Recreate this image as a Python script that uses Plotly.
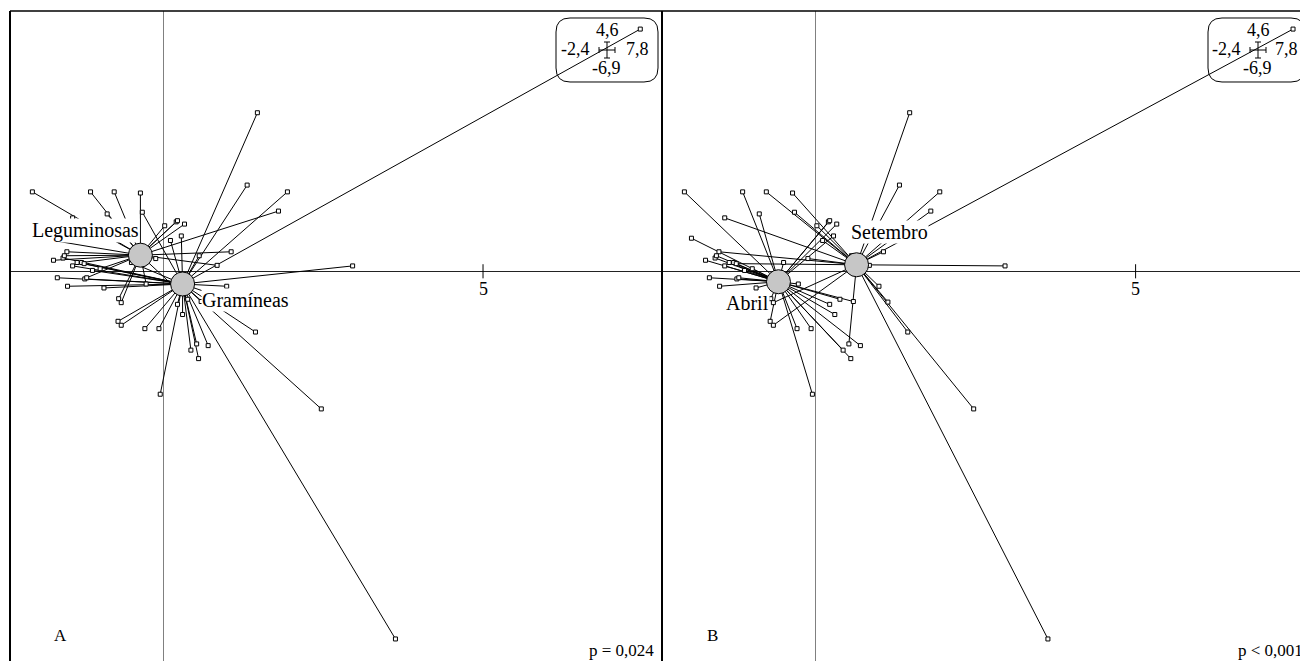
import plotly.graph_objects as go

# page has an 8 px body margin; the figure is laid out in screen pixels minus that offset
OFF = 8
W, H = 1300, 653

# ---- sample scores on the two ordination axes ----
pt_x = [-2.05, -1.42, -1.14, -0.88, -0.77, -0.36, -0.33, 0.02, 0.20, 0.22,
        0.33, 0.11, 0.28, 1.31, 1.94, 1.80, 1.06, 0.84, 0.99, 1.47,
        7.46, 2.96, 1.44, 2.47, 3.63, -0.05, 1.13, -1.94, -1.72, -1.51,
        -1.57, -1.55, -1.42, -1.35, -1.28, -1.24, -1.11, -0.99, -1.66, -1.23,
        -1.20, -1.50, -0.93, -0.70, -0.66, -0.71, -0.66, -0.29, -0.07, -0.50,
        -0.27, 0.22, 0.30, 0.38, 0.59, 0.43, 0.52, 0.55, 0.70, 0.56, -0.12]
pt_y = [1.40, 0.94, 1.40, 1.01, 1.40, 1.38, 1.04, 0.80, 0.87, 0.89,
        0.83, 0.54, 0.62, 1.52, 1.40, 1.06, 0.34, 0.10, -0.27, 2.80,
        4.28, 0.09, -1.08, -2.44, -6.51, -2.18, -0.55, 0.58, 0.19, 0.34,
        0.23, 0.27, 0.09, 0.15, 0.15, 0.13, 0.01, 0.04, -0.12, -0.14,
        -0.12, -0.27, -0.30, -0.49, -0.56, -0.89, -0.96, -1.02, -1.02, 0.15,
        -0.23, -0.59, -0.77, -0.50, -0.54, -1.40, -1.29, -1.55, -1.32, 0.27, 0.22]
# group membership: 0 = Leguminosas, 1 = Gramíneas
pt_treat = [0, 0, 0, 0, 0, 0, 1, 0, 0, 0,
            0, 1, 1, 1, 1, 0, 0, 0, 1, 1,
            1, 1, 1, 1, 1, 1, 1, 0, 0, 0,
            1, 0, 1, 1, 0, 1, 1, 0, 1, 1,
            0, 1, 1, 0, 0, 1, 1, 1, 1, 1,
            0, 1, 1, 0, 1, 1, 1, 1, 1, 1, 0]
# 0 = Abril, 1 = Setembro
pt_month = [0, 1, 0, 0, 1, 1, 1, 1, 0, 0,
            0, 1, 0, 1, 1, 1, 1, 1, 1, 1,
            1, 1, 1, 1, 1, 0, 1, 0, 0, 1,
            0, 0, 0, 0, 0, 1, 0, 0, 0, 0,
            0, 0, 0, 0, 1, 0, 1, 0, 0, 0,
            0, 0, 0, 0, 0, 0, 1, 0, 0, 1, 1]

treat_names = ["Leguminosas", "Gramíneas"]
treat_cx = [-0.36, 0.30]
treat_cy = [0.28, -0.23]
treat_lab_x = [-1.22, 1.28]
treat_lab_y = [0.71, -0.51]

month_names = ["Abril", "Setembro"]
month_cx = [-0.58, 0.64]
month_cy = [-0.19, 0.11]
month_lab_x = [-1.06, 1.16]
month_lab_y = [-0.57, 0.69]

x_lim = [-2.4, 7.8]
y_lim = [-6.9, 4.6]
tick_val = 5
panel_tags = ["A", "B"]
p_texts = ["p = 0,024", "p < 0,001"]

FONT = "Liberation Serif"

fig = go.Figure()


def add_panel(xa, ya, groups, cx, cy, names, lx, ly):
    sx, sy = [], []
    for x, y, g in zip(pt_x, pt_y, groups):
        sx += [x, cx[g], None]
        sy += [y, cy[g], None]
    fig.add_trace(go.Scatter(x=sx, y=sy, mode="lines", xaxis=xa, yaxis=ya,
                             line=dict(color="black", width=1), hoverinfo="skip",
                             showlegend=False))
    fig.add_trace(go.Scatter(x=pt_x, y=pt_y, mode="markers", xaxis=xa, yaxis=ya,
                             marker=dict(symbol="square", size=4, color="white",
                                         line=dict(color="black", width=1)),
                             showlegend=False))
    fig.add_trace(go.Scatter(x=cx, y=cy, mode="markers", xaxis=xa, yaxis=ya,
                             marker=dict(symbol="circle", size=24, color="#c6c6c6",
                                         line=dict(color="black", width=1)),
                             showlegend=False))
    for n, x, y in zip(names, lx, ly):
        fig.add_annotation(x=x, y=y, xref=xa, yref=ya, text=n, showarrow=False,
                           xanchor="center", yanchor="middle",
                           bgcolor="white", borderpad=0,
                           font=dict(family=FONT, size=20, color="black"))


add_panel("x", "y", pt_treat, treat_cx, treat_cy, treat_names, treat_lab_x, treat_lab_y)
add_panel("x2", "y2", pt_month, month_cx, month_cy, month_names, month_lab_x, month_lab_y)


def P(px, py):
    """screen pixel -> paper coordinates"""
    return (px - OFF) / W, 1 - (py - OFF) / H


ytop = P(0, 11)[1]
ybot = max(0.0, P(0, 661)[1])
ax_common = dict(showgrid=False, showticklabels=False, ticks="", showline=False,
                 zeroline=True, zerolinewidth=1, fixedrange=True)
fig.update_layout(
    width=W, height=H, margin=dict(l=0, r=0, t=0, b=0),
    paper_bgcolor="white", plot_bgcolor="white",
    xaxis=dict(domain=[P(10, 0)[0], P(662, 0)[0]], range=x_lim,
               zerolinecolor="#808080", anchor="y", **ax_common),
    yaxis=dict(domain=[ybot, ytop], range=y_lim, anchor="x",
               zerolinecolor="#222222", **ax_common),
    xaxis2=dict(domain=[P(662, 0)[0], 1.0], range=[x_lim[0], x_lim[0] + (OFF + W - 662) / 64.0],
                zerolinecolor="#808080", anchor="y2", **ax_common),
    yaxis2=dict(domain=[ybot, ytop], range=y_lim, anchor="x2",
                zerolinecolor="#222222", **ax_common),
)

# frame lines (left, top, right) per panel
for x0, x1 in [(10, 662), (662, 1310)]:
    for (a, b, c, d, w) in [(x0, 11, x0, 670, 2), (x0, 11, x1, 11, 1.5), (x1, 11, x1, 670, 2)]:
        u0, v0 = P(a, b)
        u1, v1 = P(c, d)
        fig.add_shape(type="line", xref="paper", yref="paper", x0=u0, y0=v0, x1=u1, y1=v1,
                      line=dict(color="black", width=w))

# tick at 5 on the horizontal axis
for xa, ya in [("x", "y"), ("x2", "y2")]:
    fig.add_shape(type="line", xref=xa, yref=ya, x0=tick_val, x1=tick_val, y0=-0.13, y1=0.12,
                  line=dict(color="black", width=1))
    fig.add_annotation(x=tick_val, y=-0.31, xref=xa, yref=ya, text=str(tick_val), showarrow=False,
                       xanchor="center", yanchor="middle",
                       font=dict(family=FONT, size=18, color="black"))


def fmt(v):
    return f"{v:.1f}".replace(".", ",")


def range_box(bx0, bx1, cxp, lxp, rxp):
    by0, by1, r = 18, 82, 14

    def p(x, y):
        u, v = P(x, y)
        return f"{u:.5f},{v:.5f}"
    path = (f"M {p(bx0 + r, by0)} L {p(bx1 - r, by0)} Q {p(bx1, by0)} {p(bx1, by0 + r)} "
            f"L {p(bx1, by1 - r)} Q {p(bx1, by1)} {p(bx1 - r, by1)} "
            f"L {p(bx0 + r, by1)} Q {p(bx0, by1)} {p(bx0, by1 - r)} "
            f"L {p(bx0, by0 + r)} Q {p(bx0, by0)} {p(bx0 + r, by0)} Z")
    fig.add_shape(type="path", path=path, xref="paper", yref="paper",
                  line=dict(color="black", width=1))
    for t, x, y in [(fmt(y_lim[1]), cxp, 30), (fmt(x_lim[0]), lxp, 49),
                    (fmt(x_lim[1]), rxp, 49), (fmt(y_lim[0]), cxp - 1, 68)]:
        u, v = P(x, y)
        fig.add_annotation(x=u, y=v, xref="paper", yref="paper", text=t, showarrow=False,
                           xanchor="center", yanchor="middle",
                           font=dict(family=FONT, size=18, color="black"))
    segs = [(cxp - 8, 50, cxp + 8, 50), (cxp, 42, cxp, 58),
            (cxp - 8, 47, cxp - 8, 53), (cxp + 8, 47, cxp + 8, 53),
            (cxp - 3, 42, cxp + 3, 42), (cxp - 3, 58, cxp + 3, 58)]
    for a, b, c, d in segs:
        u0, v0 = P(a, b)
        u1, v1 = P(c, d)
        fig.add_shape(type="line", xref="paper", yref="paper", x0=u0, y0=v0, x1=u1, y1=v1,
                      line=dict(color="black", width=1))


range_box(556, 658, 607, 575, 637)
range_box(1208, 1305, 1258, 1226, 1286)

# panel tags and p-values
for tag, (tx, ty) in zip(panel_tags, [(61, 635), (712, 635)]):
    u, v = P(tx, ty)
    fig.add_annotation(x=u, y=v, xref="paper", yref="paper", text=tag, showarrow=False,
                       xanchor="center", yanchor="middle",
                       font=dict(family=FONT, size=17, color="black"))
for pt, (tx, ty) in zip(p_texts, [(621, 650), (1270, 650)]):
    u, v = P(tx, ty)
    fig.add_annotation(x=u, y=v, xref="paper", yref="paper", text=pt, showarrow=False,
                       xanchor="center", yanchor="middle",
                       font=dict(family=FONT, size=17, color="black"))

fig.write_html("out.html")
